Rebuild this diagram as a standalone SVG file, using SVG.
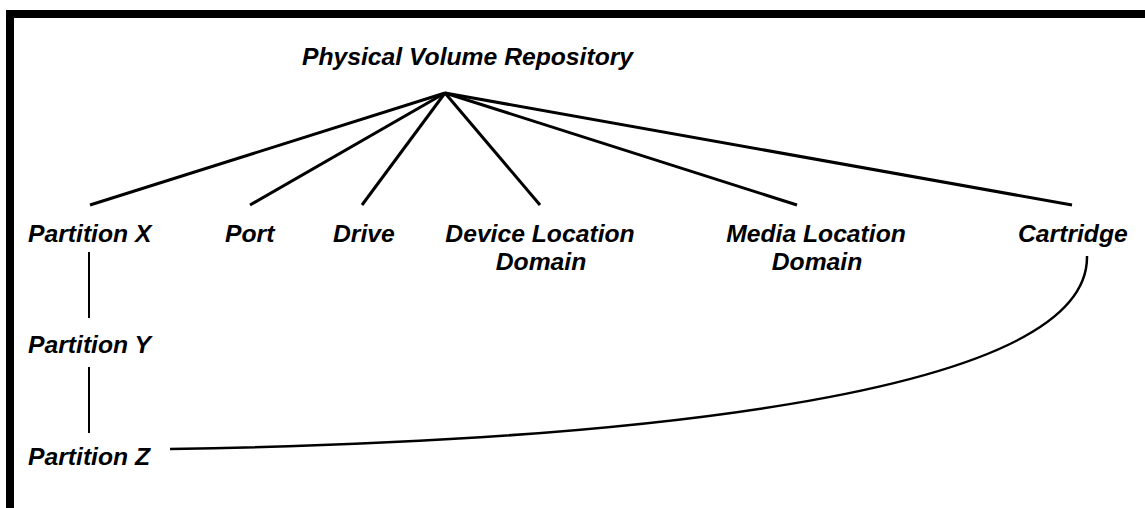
<svg xmlns="http://www.w3.org/2000/svg" width="1145" height="508" viewBox="0 0 1145 508">
  <style>
    .lbl { font-family: "Liberation Sans", Arial, sans-serif; font-weight: bold; font-style: italic; font-size: 24.7px; fill: #000; }
    .mid { text-anchor: middle; }
    .branch { stroke: #000; stroke-width: 3; stroke-linecap: butt; fill: none; }
    .chain { stroke: #000; stroke-width: 2; fill: none; }
    .link { stroke: #000; stroke-width: 2.5; fill: none; }
  </style>
  <rect width="1145" height="508" fill="#fff"/>
  <!-- frame: thick rule along top and left edges -->
  <path d="M10,508 V14 H1145" stroke="#000" stroke-width="8" fill="none" stroke-linejoin="miter"/>

  <g id="connectors">
    <line class="branch" x1="445" y1="93" x2="90" y2="205"/>
    <line class="branch" x1="445" y1="93" x2="250" y2="205"/>
    <line class="branch" x1="445" y1="93" x2="362" y2="205"/>
    <line class="branch" x1="445" y1="93" x2="540" y2="205"/>
    <line class="branch" x1="445" y1="93" x2="797" y2="205"/>
    <line class="branch" x1="445" y1="93" x2="1072" y2="205"/>
    <line class="chain" x1="89" y1="252" x2="89" y2="318"/>
    <line class="chain" x1="89" y1="367" x2="89" y2="433"/>
    <path class="link" d="M170,449 C600,442 1090,400 1087,256"/>
  </g>

  <g id="physical-volume-repository">
    <text class="lbl" x="302" y="65">Physical Volume Repository</text>
  </g>
  <g id="partition-x">
    <text class="lbl" x="28" y="242">Partition X</text>
  </g>
  <g id="port">
    <text class="lbl" x="225" y="242">Port</text>
  </g>
  <g id="drive">
    <text class="lbl" x="333" y="242">Drive</text>
  </g>
  <g id="device-location-domain">
    <text class="lbl mid" x="540" y="242">Device Location</text>
    <text class="lbl mid" x="541" y="270">Domain</text>
  </g>
  <g id="media-location-domain">
    <text class="lbl mid" x="816" y="242">Media Location</text>
    <text class="lbl mid" x="817" y="270">Domain</text>
  </g>
  <g id="cartridge">
    <text class="lbl" x="1018" y="242">Cartridge</text>
  </g>
  <g id="partition-y">
    <text class="lbl" x="28" y="353">Partition Y</text>
  </g>
  <g id="partition-z">
    <text class="lbl" x="28" y="465">Partition Z</text>
  </g>
</svg>
